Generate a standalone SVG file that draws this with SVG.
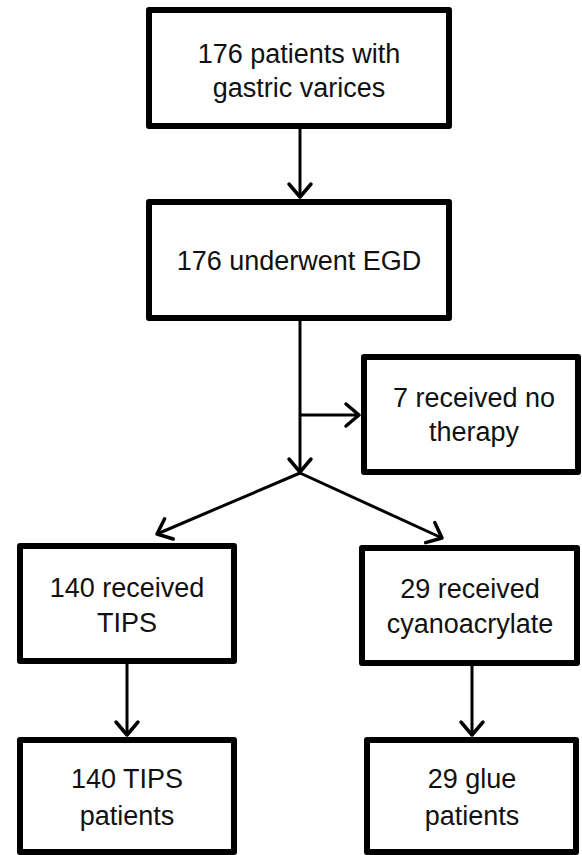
<svg xmlns="http://www.w3.org/2000/svg" width="582" height="855" viewBox="0 0 582 855">
<defs>
<style>
.box{fill:#fff;stroke:#000;stroke-width:6;stroke-linejoin:round}
.lbl{font-family:"Liberation Sans",Arial,sans-serif;font-size:27px;fill:#111;text-anchor:middle}
.con{fill:none;stroke:#000;stroke-width:3}
</style>
<marker id="arr" markerUnits="userSpaceOnUse" markerWidth="40" markerHeight="40" refX="0" refY="0" viewBox="-20 -20 40 40" orient="auto" overflow="visible">
<path d="M-13,-11 L0,0 L-13,11" fill="none" stroke="#000" stroke-width="3.5" stroke-linecap="round" stroke-linejoin="round"/>
</marker>
</defs>
<rect width="582" height="855" fill="#fff"/>
<g id="connectors">
<line class="con" x1="300" y1="129" x2="300" y2="197" marker-end="url(#arr)"/>
<line class="con" x1="300" y1="321" x2="300" y2="472" marker-end="url(#arr)"/>
<line class="con" x1="300" y1="415" x2="359" y2="415" marker-end="url(#arr)"/>
<line class="con" x1="300" y1="473" x2="157" y2="534" marker-end="url(#arr)"/>
<line class="con" x1="300" y1="473" x2="442" y2="538" marker-end="url(#arr)"/>
<line class="con" x1="127" y1="664" x2="127" y2="735" marker-end="url(#arr)"/>
<line class="con" x1="472" y1="666" x2="472" y2="735" marker-end="url(#arr)"/>
</g>
<g id="n1">
<rect class="box" x="149" y="10" width="300" height="116"/>
<text class="lbl" x="299" y="63">176 patients with</text>
<text class="lbl" x="299" y="97">gastric varices</text>
</g>
<g id="n2">
<rect class="box" x="149" y="202" width="300" height="116"/>
<text class="lbl" x="299" y="270">176 underwent EGD</text>
</g>
<g id="n3">
<rect class="box" x="364" y="357" width="214" height="115"/>
<text class="lbl" x="474" y="407">7 received no</text>
<text class="lbl" x="474" y="441">therapy</text>
</g>
<g id="n4">
<rect class="box" x="20" y="546" width="214" height="115"/>
<text class="lbl" x="127" y="597">140 received</text>
<text class="lbl" x="127" y="632">TIPS</text>
</g>
<g id="n5">
<rect class="box" x="362" y="548" width="215" height="115"/>
<text class="lbl" x="470" y="598">29 received</text>
<text class="lbl" x="470" y="633">cyanoacrylate</text>
</g>
<g id="n6">
<rect class="box" x="20" y="740" width="214" height="112"/>
<text class="lbl" x="127" y="788">140 TIPS</text>
<text class="lbl" x="127" y="825">patients</text>
</g>
<g id="n7">
<rect class="box" x="367" y="740" width="209" height="112"/>
<text class="lbl" x="472" y="788">29 glue</text>
<text class="lbl" x="472" y="825">patients</text>
</g>
</svg>
